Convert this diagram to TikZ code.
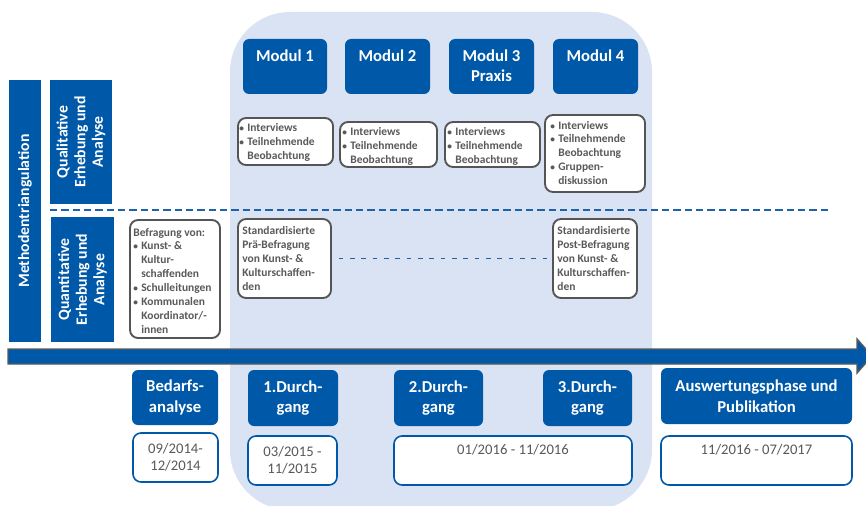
\documentclass[tikz,border=0pt]{standalone}
\usepackage{fontspec}
\setmainfont{Carlito}
\usetikzlibrary{fit,calc}
\definecolor{dblue}{RGB}{0,88,168}
\definecolor{lbg}{RGB}{218,227,243}
\definecolor{gtext}{RGB}{89,89,89}
\definecolor{gborder}{RGB}{85,85,85}
\definecolor{dashblue}{RGB}{30,98,170}
\definecolor{arrowgray}{RGB}{90,90,90}
\newcommand\smallfont{\bfseries\fontsize{8.6}{10.4}\selectfont}
\newcommand\bul{{\fontsize{7}{7}\selectfont•}}
\tikzset{
  bluebox/.style={fill=dblue, rounded corners=4.5pt, inner sep=0pt},
  sidebar/.style={fill=dblue, inner sep=0pt},
  greybox/.style={draw=gborder, line width=1.4pt, fill=white, rounded corners=6pt, inner sep=0pt},
  datebox/.style={draw=dblue, line width=1.2pt, fill=white, rounded corners=6pt, inner sep=0pt},
  headtxt/.style={text=white, font=\bfseries\fontsize{12.5}{15}\selectfont, align=center, inner sep=0pt},
  phasetxt/.style={text=white, font=\bfseries\fontsize{12.5}{15.5}\selectfont, align=center, inner sep=0pt},
  sidetxt/.style={text=white, font=\bfseries\fontsize{11.8}{13.2}\selectfont, align=center, inner sep=0pt, rotate=90},
  smalltxt/.style={text=gtext, font=\smallfont, align=left, inner sep=0pt, anchor=north west},
  datetxt/.style={text=gtext, font=\fontsize{11}{12.8}\selectfont, align=center, inner sep=0pt},
  bigdash/.style={draw=dashblue, line width=2.2pt, dash pattern=on 5.5pt off 3pt},
  middash/.style={draw=dashblue, line width=1.2pt, dash pattern=on 3.5pt off 5pt},
}
\begin{document}
\begin{tikzpicture}[x=0.75pt,y=-0.75pt]
\useasboundingbox (0,0) rectangle (866,506);
% light background region
\fill[lbg, rounded corners=45pt] (230,12) rectangle (652,510);

% side bars
\node[sidebar, fit={(9,80)(41,342)}] (meth) {};
\node[sidetxt] (metht) at (meth.center) {Methodentriangulation};
\node[sidebar, fit={(50,80)(112,204)}] (qual) {};
\node[sidetxt] (qualt) at (qual.center) {Qualitative\\Erhebung und\\Analyse};
\node[sidebar, fit={(51,217)(114,342)}] (quant) {};
\node[sidetxt] (quantt) at (quant.center) {Quantitative\\Erhebung und\\Analyse};

% dashed separator
\coordinate (dashL) at (50,210);
\coordinate (dashR) at (831,210);
\draw[bigdash] (dashL) -- (dashR);

% module headers
\node[bluebox, fit={(243,39)(327,94)}] (m1) {};
\node[bluebox, fit={(345,39)(430,94)}] (m2) {};
\node[bluebox, fit={(449,39)(534,94)}] (m3) {};
\node[bluebox, fit={(553,39)(638,94)}] (m4) {};
\node[headtxt, anchor=north] (m1t) at ($(m1.north)+(0,11)$) {Modul 1};
\node[headtxt, anchor=north] (m2t) at ($(m2.north)+(0,11)$) {Modul 2};
\node[headtxt, anchor=north] (m3t) at ($(m3.north)+(0,11)$) {Modul 3\\Praxis};
\node[headtxt, anchor=north] (m4t) at ($(m4.north)+(0,11)$) {Modul 4};

% qualitative boxes
\node[greybox, fit={(238,118)(333,165)}] (q1) {};
\node[greybox, fit={(340,122)(437,167)}] (q2) {};
\node[greybox, fit={(445,122)(540,167)}] (q3) {};
\node[greybox, fit={(545,115)(645,192)}] (q4) {};
\node[smalltxt] (q1t) at ($(q1.north west)+(2,4.5)$) {\begin{tabular}{@{}l@{\hspace{2.5pt}}l@{}}\bul&Interviews\\\bul&Teilnehmende\\&Beobachtung\end{tabular}};
\node[smalltxt] (q2t) at ($(q2.north west)+(3,4.5)$) {\begin{tabular}{@{}l@{\hspace{2.5pt}}l@{}}\bul&Interviews\\\bul&Teilnehmende\\&Beobachtung\end{tabular}};
\node[smalltxt] (q3t) at ($(q3.north west)+(3,4.5)$) {\begin{tabular}{@{}l@{\hspace{2.5pt}}l@{}}\bul&Interviews\\\bul&Teilnehmende\\&Beobachtung\end{tabular}};
\node[smalltxt] (q4t) at ($(q4.north west)+(6,5)$) {\begin{tabular}{@{}l@{\hspace{2.5pt}}l@{}}\bul&Interviews\\\bul&Teilnehmende\\&Beobachtung\\\bul&Gruppen-\\&diskussion\end{tabular}};

% quantitative boxes
\node[greybox, fit={(130,220)(220,338)}] (bef) {};
\node[smalltxt] (beft) at ($(bef.north west)+(4,7)$) {\begin{tabular}{@{}l@{\hspace{2.5pt}}l@{}}\multicolumn{2}{@{}l@{}}{Befragung von:}\\\bul&Kunst- \&\\&Kultur-\\&schaffenden\\\bul&Schulleitungen\\\bul&Kommunalen\\&Koordinator/-\\&innen\end{tabular}};
\node[greybox, fit={(238,219)(331,298)}] (pre) {};
\node[smalltxt] (pret) at ($(pre.north west)+(5,6.5)$) {\begin{tabular}{@{}l@{}}Standardisierte\\Prä-Befragung\\von Kunst- \&\\Kulturschaffen-\\den\end{tabular}};
\node[greybox, fit={(553,219)(637,298)}] (post) {};
\node[smalltxt] (postt) at ($(post.north west)+(5,6.5)$) {\begin{tabular}{@{}l@{}}Standardisierte\\Post-Befragung\\von Kunst- \&\\Kulturschaffen-\\den\end{tabular}};
\draw[middash, shorten <=5pt, shorten >=2pt] (pre.east) -- (post.west);

% timeline arrow
\draw[fill=dblue, draw=arrowgray, line width=1.1pt] (8,349) -- (857,349) -- (857,339) -- (872,356) -- (857,373) -- (857,364) -- (8,364) -- cycle;

% phase boxes
\node[bluebox, fit={(132,370)(218,425)}] (p0) {};
\node[bluebox, fit={(248,370)(338,426)}] (p1) {};
\node[bluebox, fit={(394,370)(483,426)}] (p2) {};
\node[bluebox, fit={(543,370)(632,426)}] (p3) {};
\node[bluebox, fit={(661,368)(852,424)}] (p4) {};
\node[phasetxt] (p0t) at (p0.center) {Bedarfs-\\analyse};
\node[phasetxt] (p1t) at (p1.center) {1.Durch-\\gang};
\node[phasetxt] (p2t) at (p2.center) {2.Durch-\\gang};
\node[phasetxt] (p3t) at (p3.center) {3.Durch-\\gang};
\node[phasetxt] (p4t) at (p4.center) {Auswertungsphase und\\Publikation};

% date boxes
\node[datebox, fit={(133,433)(218,482)}] (d0) {};
\node[datebox, fit={(248,436)(337,485)}] (d1) {};
\node[datebox, fit={(394,436)(632,485)}] (d2) {};
\node[datebox, fit={(661,436)(852,485)}] (d4) {};
\node[datetxt] (d0t) at (d0.center) {09/2014-\\12/2014};
\node[datetxt] (d1t) at (d1.center) {03/2015 -\\11/2015};
\node[datetxt, anchor=north] (d2t) at ($(d2.north)+(0,9)$) {01/2016 - 11/2016};
\node[datetxt, anchor=north] (d4t) at ($(d4.north)+(0,9)$) {11/2016 - 07/2017};
\end{tikzpicture}
\end{document}
